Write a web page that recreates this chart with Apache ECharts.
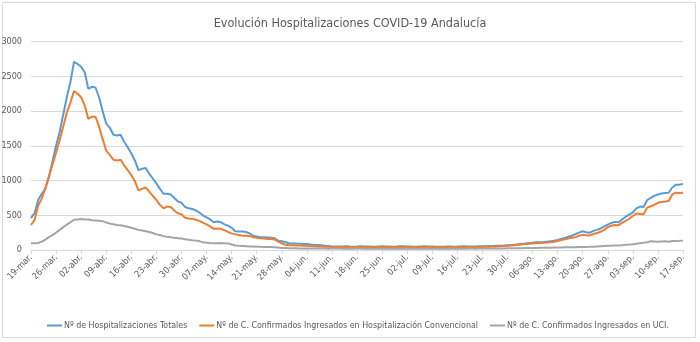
<!DOCTYPE html>
<html>
<head>
<meta charset="utf-8">
<script src="https://cdn.jsdelivr.net/npm/echarts@6/dist/echarts.min.js"></script>
<style>
html,body{margin:0;padding:0;background:#fff;}
#c{width:700px;height:342px;}
</style>
</head>
<body>
<div id="c"></div>
<script>
// ---- Data ----
const startDate = [2020, 2, 19]; // 19-mar.
const dayCount = 183;
const monthNames = ['ene','feb','mar','abr','may','jun','jul','ago','sep','oct','nov','dic'];
const categories = [];
for (let i = 0; i < dayCount; i++) {
  const d = new Date(Date.UTC(startDate[0], startDate[1], startDate[2] + i));
  categories.push(String(d.getUTCDate()).padStart(2,'0') + '-' + monthNames[d.getUTCMonth()] + '.');
}

const seriesNames = [
  'Nº de Hospitalizaciones Totales',
  'Nº de C. Confirmados Ingresados en Hospitalización Convencional',
  'Nº de C. Confirmados Ingresados en UCI.'
];

const totales = [
  460,530,720,810,880,1060,1280,1500,1700,1950,
  2200,2420,2710,2680,2640,2560,2320,2350,2340,2200,
  2000,1820,1760,1660,1650,1660,1560,1480,1390,1290,
  1150,1170,1180,1100,1030,960,880,810,810,800,
  750,700,680,620,600,590,570,540,500,470,
  440,400,410,400,370,350,320,270,265,265,
  260,240,205,195,185,183,180,175,168,135,
  125,115,98,95,92,90,88,87,80,75,
  72,68,62,58,52,
  50,49,52,53,50,48,50,53,52,50,
  48,47,50,53,52,50,48,50,54,53,
  52,50,48,49,52,53,51,50,47,46,
  48,51,50,48,49,52,53,51,50,52,
  54,
  55,55,57,58,60,62,65,70,72,75,
  82,90,95,102,105,110,112,115,120,125,
  135,145,160,175,190,205,230,250,270,255,
  250,275,290,310,340,365,390,405,400,440,
  480,510,540,600,625,620,720,750,780,800,
  815,820,825,900,940,940,952
];

const convencional = [
  360,430,640,740,890,1050,1230,1400,1580,1780,
  1980,2120,2290,2250,2200,2080,1890,1920,1920,1780,
  1600,1430,1370,1300,1290,1300,1220,1150,1080,990,
  860,880,900,840,780,720,650,600,625,620,
  570,530,515,465,455,450,435,420,395,370,
  340,305,310,305,285,260,240,225,215,205,
  205,200,185,175,168,165,160,158,152,120,
  95,75,70,68,66,64,63,62,58,55,
  52,50,48,46,45,44,
  43,45,46,43,41,43,45,44,42,40,
  39,42,45,44,42,40,42,46,45,44,
  42,40,41,44,45,43,42,39,38,40,
  43,42,40,41,44,45,43,42,44,45,
  45,46,48,50,52,55,58,62,64,68,
  74,80,85,90,95,98,100,103,108,112,
  120,130,142,155,165,175,185,205,218,212,
  210,230,245,262,290,330,350,360,358,390,
  420,450,490,525,520,515,610,630,650,680,
  690,697,705,800,825,822,825
];

const uci = [
  96,96,100,120,150,185,215,250,290,330,
  365,400,435,440,445,440,440,430,425,420,
  415,395,380,370,360,355,345,335,320,305,
  290,280,270,260,245,225,215,200,190,182,
  175,170,165,155,148,140,135,128,110,105,
  100,98,97,100,96,95,80,65,60,58,
  55,52,50,48,46,45,44,42,40,35,
  30,28,26,25,24,23,22,22,
  22,21,21,20,20,19,20,21,20,19,
  19,18,19,20,20,19,18,18,19,20,
  19,18,17,18,19,19,18,17,17,18,
  19,18,17,17,18,19,19,18,18,19,
  20,19,18,19,20,20,19,20,
  20,21,21,22,22,23,23,24,24,25,
  26,27,28,29,30,30,31,32,33,34,
  35,36,37,38,39,40,40,42,44,45,
  46,48,52,55,58,60,62,64,66,70,
  75,78,82,90,98,104,112,125,122,118,
  122,125,120,128,130,132,135
];

const yMin = 0, yMax = 3000, yInterval = 500;
const colors = ['#5B9BD5', '#ED7D31', '#A5A5A5'];

// ---- Chart ----
const FONT = "'Liberation Sans Narrow', 'DejaVu Sans Condensed', 'Liberation Sans', sans-serif";
const chart = echarts.init(document.getElementById('c'), null, {renderer: 'canvas'});
const mkSeries = (name, data, color) => ({
  name, type: 'line', data, symbol: 'none', smooth: false,
  lineStyle: {color, width: 2}, itemStyle: {color}, animation: false
});
chart.setOption({
  animation: false,
  textStyle: {fontFamily: FONT},
  title: {
    text: 'Evolución Hospitalizaciones COVID-19 Andalucía',
    left: 'center', top: 12,
    textStyle: {fontFamily: FONT, fontSize: 12.5, fontWeight: 'normal', color: '#595959'}
  },
  graphic: [{
    type: 'rect', silent: true, z: -1,
    shape: {x: 2.5, y: 2.5, width: 693, height: 335},
    style: {fill: 'none', stroke: '#D9D9D9', lineWidth: 1}
  }],
  legend: {
    left: 42, top: 316, width: 650,
    icon: 'rect', itemWidth: 15, itemHeight: 2, itemGap: 12,
    textStyle: {fontFamily: FONT, fontSize: 8.8, color: '#595959', padding: [0,0,0,-3]},
    data: seriesNames
  },
  grid: {left: 31, right: 17, top: 41.7, bottom: 92, containLabel: false, outerBoundsMode: 'none'},
  xAxis: {
    type: 'category', data: categories, boundaryGap: false,
    axisLine: {lineStyle: {color: '#D9D9D9'}},
    axisTick: {show: true, interval: 6, length: 4, lineStyle: {color: '#D9D9D9'}},
    axisLabel: {interval: 6, rotate: 45, fontFamily: FONT, fontSize: 9, color: '#595959', margin: 6},
    splitLine: {show: false}
  },
  yAxis: {
    type: 'value', min: yMin, max: yMax, interval: yInterval,
    axisLine: {show: false}, axisTick: {show: false},
    axisLabel: {fontFamily: FONT, fontSize: 9, color: '#595959', margin: 9, formatter: v => String(v)},
    splitLine: {lineStyle: {color: '#D9D9D9'}}
  },
  series: [
    mkSeries(seriesNames[0], totales, colors[0]),
    mkSeries(seriesNames[1], convencional, colors[1]),
    mkSeries(seriesNames[2], uci, colors[2])
  ]
});
</script>
</body>
</html>
